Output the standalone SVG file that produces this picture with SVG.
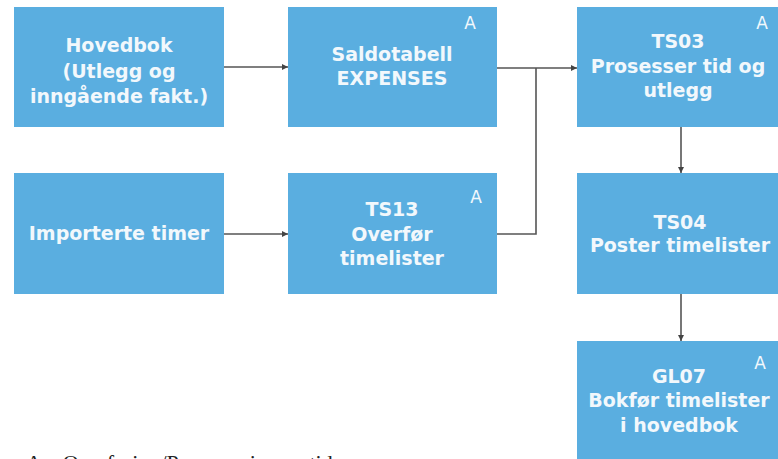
<svg xmlns="http://www.w3.org/2000/svg" width="778" height="459" viewBox="0 0 778 459">
<style>
.box{fill:#5aaee0;}
.t{font-family:"DejaVu Sans",Verdana,sans-serif;font-weight:bold;font-size:19px;fill:#f2f8fc;text-anchor:middle;}
.a{font-family:"DejaVu Sans",Verdana,sans-serif;font-size:17px;fill:#f2f8fc;text-anchor:middle;}
.c{fill:none;stroke:#555;stroke-width:1.6;}
.foot{font-family:"Liberation Serif","Times New Roman",serif;font-size:22px;fill:#222;}
</style>
<defs>
<marker id="arr" viewBox="0 0 10 10" refX="10" refY="5" markerWidth="6" markerHeight="6" orient="auto" markerUnits="userSpaceOnUse">
<path d="M0,0 L10,5 L0,10 z" fill="#444"/>
</marker>
</defs>
<rect width="778" height="459" fill="#ffffff"/>
<g id="connectors">
<line class="c" x1="224" y1="67" x2="288" y2="67" marker-end="url(#arr)"/>
<line class="c" x1="224" y1="234" x2="288" y2="234" marker-end="url(#arr)"/>
<line class="c" x1="497" y1="68" x2="577" y2="68" marker-end="url(#arr)"/>
<polyline class="c" points="497,234 536,234 536,68"/>
<line class="c" x1="681" y1="127" x2="681" y2="173" marker-end="url(#arr)"/>
<line class="c" x1="681" y1="294" x2="681" y2="341" marker-end="url(#arr)"/>
</g>
<g id="hovedbok">
<rect class="box" x="14" y="7" width="210" height="120"/>
<text class="t" x="119" y="52">Hovedbok</text>
<text class="t" x="119" y="78">(Utlegg og</text>
<text class="t" x="119" y="103">inngående fakt.)</text>
</g>
<g id="saldotabell">
<rect class="box" x="288" y="7" width="209" height="120"/>
<text class="a" x="470" y="29">A</text>
<text class="t" x="392" y="61">Saldotabell</text>
<text class="t" x="392" y="85">EXPENSES</text>
</g>
<g id="ts03">
<rect class="box" x="577" y="7" width="203" height="120"/>
<text class="a" x="762" y="29">A</text>
<text class="t" x="678" y="48">TS03</text>
<text class="t" x="678" y="73">Prosesser tid og</text>
<text class="t" x="678" y="97">utlegg</text>
</g>
<g id="importerte">
<rect class="box" x="14" y="173" width="210" height="121"/>
<text class="t" x="119" y="240">Importerte timer</text>
</g>
<g id="ts13">
<rect class="box" x="288" y="173" width="209" height="121"/>
<text class="a" x="476" y="203">A</text>
<text class="t" x="392" y="216">TS13</text>
<text class="t" x="392" y="241">Overfør</text>
<text class="t" x="392" y="265">timelister</text>
</g>
<g id="ts04">
<rect class="box" x="577" y="173" width="203" height="121"/>
<text class="t" x="680" y="229">TS04</text>
<text class="t" x="680" y="252">Poster timelister</text>
</g>
<g id="gl07">
<rect class="box" x="577" y="341" width="203" height="125"/>
<text class="a" x="760" y="369">A</text>
<text class="t" x="679" y="383">GL07</text>
<text class="t" x="679" y="407">Bokfør timelister</text>
<text class="t" x="679" y="432">i hovedbok</text>
</g>
<text class="foot" x="26" y="470">A – Overføring/Prosessering av tid</text>
</svg>
